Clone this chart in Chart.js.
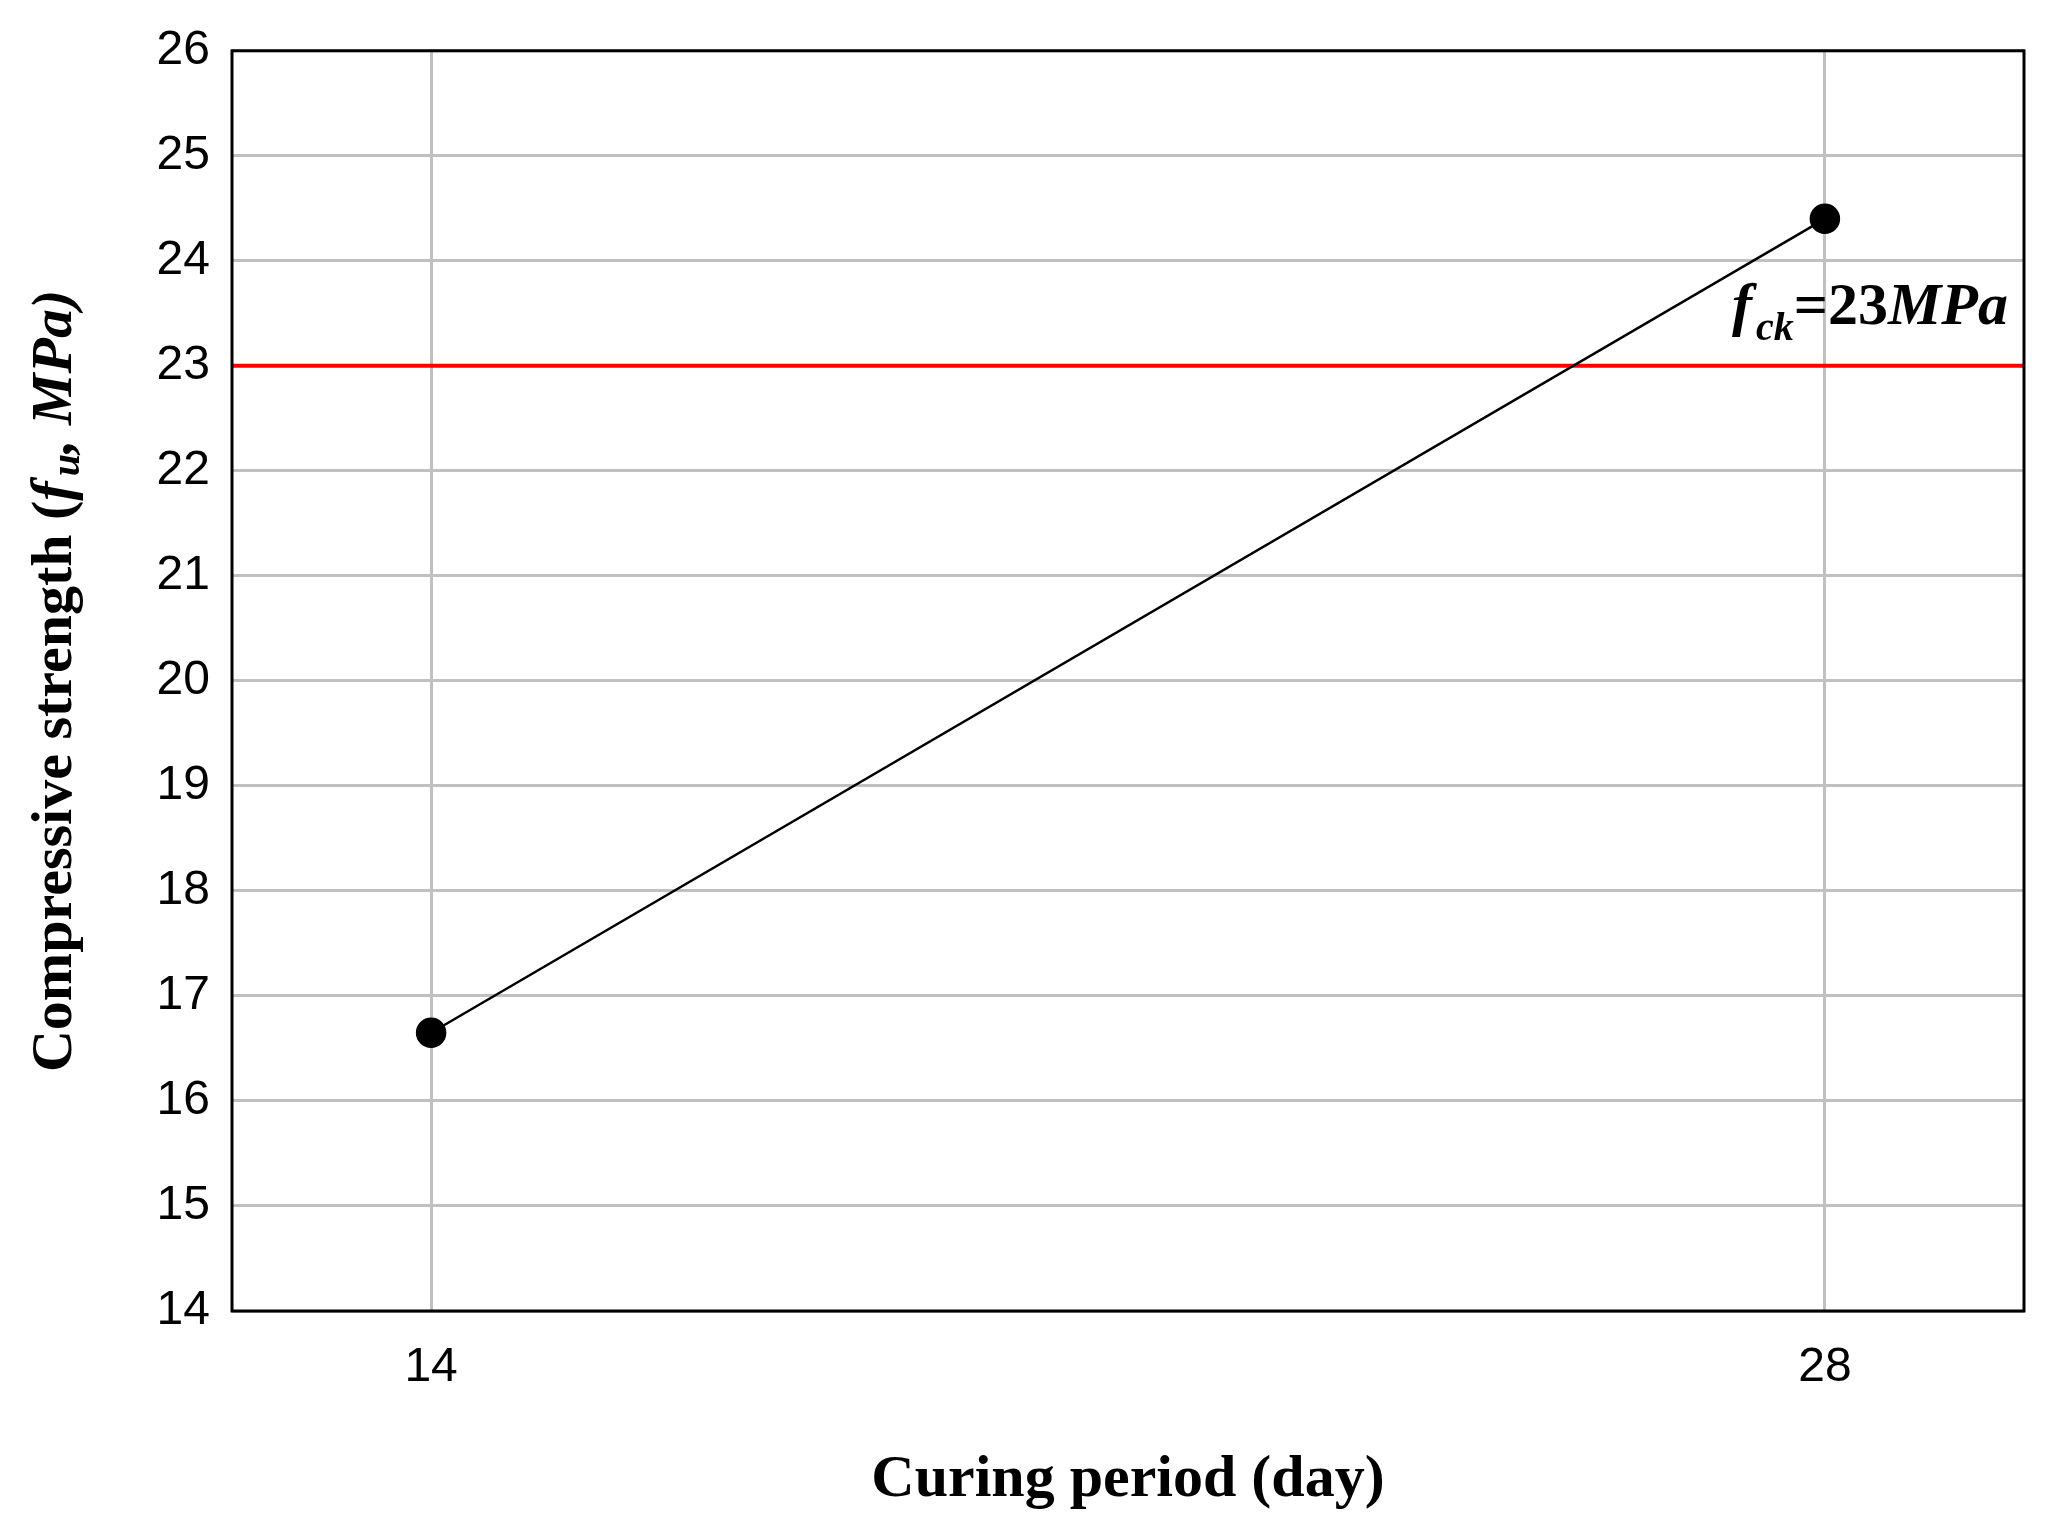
<!DOCTYPE html>
<html>
<head>
<script src="https://cdn.jsdelivr.net/npm/chart.js@4"></script>
<style>
  body { margin: 0; background: #fff; }
  #wrap { width: 2059px; height: 1521px; }
</style>
</head>
<body>
<div id="wrap"><canvas id="chart"></canvas></div>
<script>
// data
const curingDays = [14, 28];
const strength = [16.65, 24.4];
const fck = 23;
const xTicks = [14, 28];
const yMin = 14, yMax = 26;

const serif = '"Liberation Serif", "Times New Roman", serif';
const sans = '"Liberation Sans", Arial, sans-serif';

// frame + titles + f_ck label
const decorations = {
    id: 'decorations',
    afterDraw(chart) {
        const ctx = chart.ctx;
        const a = chart.chartArea;
        const y = chart.scales.y;
        ctx.save();
        ctx.strokeStyle = '#000';
        ctx.lineWidth = 3;
        ctx.strokeRect(a.left, a.top, a.right - a.left, a.bottom - a.top);

        // x title
        ctx.fillStyle = '#000';
        ctx.font = 'bold 60px ' + serif;
        ctx.textAlign = 'center';
        ctx.textBaseline = 'middle';
        ctx.fillText('Curing period (day)', (a.left + a.right) / 2, 1480);

        // y title, rotated, mixed styles
        ctx.translate(56, (a.top + a.bottom) / 2);
        ctx.rotate(-Math.PI / 2);
        ctx.textAlign = 'left';
        const parts = [
            { t: 'Compressive strength (', f: 'bold 58px ' + serif, dy: 0, gap: 0 },
            { t: 'f', f: 'italic bold 58px ' + serif, dy: 0, gap: 5 },
            { t: 'u', f: 'italic bold 40px ' + serif, dy: 13, gap: 0 },
            { t: ', MPa)', f: 'italic bold 58px ' + serif, dy: 0, gap: 0 }
        ];
        let total = 0;
        parts.forEach(p => { ctx.font = p.f; total += ctx.measureText(p.t).width + p.gap; });
        let x = -total / 2;
        parts.forEach(p => {
            ctx.font = p.f;
            ctx.fillText(p.t, x, p.dy);
            x += ctx.measureText(p.t).width + p.gap;
        });
        ctx.restore();

        // f_ck label
        ctx.save();
        ctx.fillStyle = '#000';
        ctx.textBaseline = 'alphabetic';
        const by = y.getPixelForValue(fck) - 42;
        let lx = 1732;
        ctx.font = 'italic bold 60px ' + serif;
        ctx.fillText('f', lx, by);
        lx += ctx.measureText('f').width + 4;
        ctx.font = 'italic bold 40px ' + serif;
        ctx.fillText('ck', lx, by + 16);
        lx += ctx.measureText('ck').width;
        ctx.font = 'bold 60px ' + serif;
        ctx.fillText('=23', lx, by);
        lx += ctx.measureText('=23').width;
        ctx.font = 'italic bold 60px ' + serif;
        ctx.fillText('MPa', lx, by);
        ctx.restore();
    }
};

new Chart(document.getElementById('chart'), {
    type: 'scatter',
    data: {
        datasets: [{
            data: curingDays.map((d, i) => ({ x: d, y: strength[i] })),
            showLine: true,
            borderColor: '#000',
            borderWidth: 2.5,
            backgroundColor: '#000',
            pointRadius: 14,
            pointHoverRadius: 14
        }, {
            data: [{ x: 12, y: fck }, { x: 30, y: fck }],
            showLine: true,
            borderColor: '#ff0000',
            borderWidth: 4,
            pointRadius: 0
        }]
    },
    options: {
        responsive: true,
        maintainAspectRatio: false,
        animation: false,
        layout: { padding: { top: 47, right: 35, left: 0, bottom: 0 } },
        plugins: { legend: { display: false }, tooltip: { enabled: false } },
        scales: {
            x: {
                type: 'linear', min: 12, max: 30,
                afterBuildTicks: s => { s.ticks = xTicks.map(v => ({ value: v })); },
                afterFit: s => { s.height = 210; },
                grid: { color: '#c0c0c0', lineWidth: 3, drawTicks: false },
                border: { display: false },
                ticks: { color: '#000', font: { family: sans, size: 48 }, padding: 28 }
            },
            y: {
                min: yMin, max: yMax,
                afterFit: s => { s.width = 232; },
                grid: { color: '#c0c0c0', lineWidth: 3, drawTicks: false },
                border: { display: false },
                ticks: { stepSize: 1, color: '#000', font: { family: sans, size: 48 }, padding: 22 }
            }
        }
    },
    plugins: [decorations]
});
</script>
</body>
</html>
